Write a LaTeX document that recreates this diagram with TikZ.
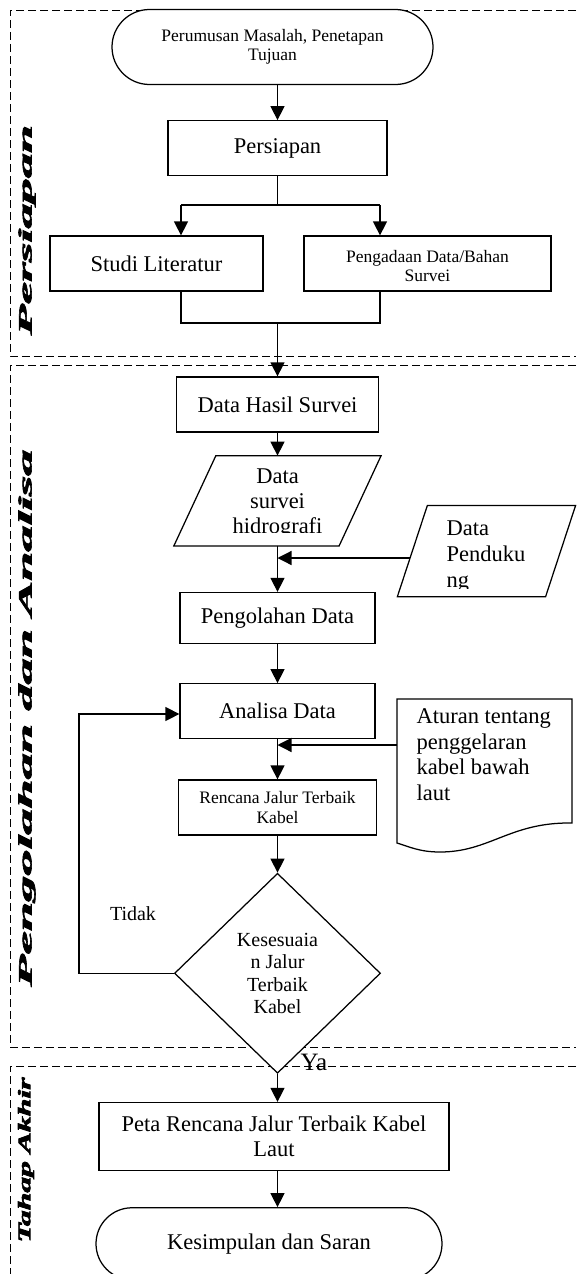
\documentclass[tikz,border=0pt]{standalone}
\usepackage{fontspec}
\setmainfont{Liberation Serif}
\newfontfamily\stagefont{Liberation Serif}[BoldItalicFeatures={FakeBold=3}]
\usepackage{graphicx}
\usetikzlibrary{positioning,arrows.meta,shapes.geometric,shapes.misc}

\begin{document}
\begin{tikzpicture}[x=1pt, y=-1pt, line width=1.25pt, node distance=35pt,
  every node/.style={font=\fontsize{22.5}{25}\selectfont},
  box/.style={draw, fill=white, inner sep=3pt, align=center},
  terminal/.style={draw, fill=white, rounded rectangle, inner sep=3pt, align=center},
  holder/.style={inner sep=0pt},
  slant/.style={draw, fill=white},
  smalltxt/.style={font=\fontsize{17.5}{19.5}\selectfont},
  lane/.style={dash pattern=on 8pt off 4pt, line width=0.9pt},
  stage/.style={rotate=90, inner sep=0pt, font=\stagefont\bfseries\itshape},
  arr/.style={-{Stealth[length=14pt, width=14pt, inset=0pt]}}]
  \useasboundingbox (0,0) rectangle (576,1274);
  % tahap
  \draw[lane] (576,10) -- (10,10) -- (10,356) -- (576,356);
  \draw[lane] (576,365) -- (10,365) -- (10,1047) -- (576,1047);
  \draw[lane] (576,1066) -- (10,1066) -- (10,1274);
  \node[stage] (persiapanlbl) at (27,230) {\resizebox*{210pt}{17pt}{Persiapan}};
  \node[stage] (olahlbl) at (27,718) {\resizebox*{537pt}{17pt}{Pengolahan dan Analisa}};
  \node[stage] (akhirlbl) at (26,1160) {\resizebox*{165pt}{16pt}{Tahap Akhir}};

  % persiapan
  \node[terminal, smalltxt, minimum width=327pt, minimum height=75pt] (start) at (272.5,47) {Perumusan Masalah, Penetapan\\Tujuan};
  \node[box, minimum width=219pt, minimum height=55pt, below=35pt of start, xshift=5pt] (persiapan) {Persiapan};
  \node[box, minimum width=213pt, minimum height=55pt] (studi) at (156.5,263.5) {Studi Literatur};
  \node[box, minimum width=247pt, minimum height=55pt] (adaan) at (427.5,263.5) {};
  \begin{scope}
    \clip (304,236) rectangle (551,281);
    \node[smalltxt, align=center, inner sep=0pt] (adaantxt) at (427.5,266) {Pengadaan Data/Bahan\\Survei};
  \end{scope}
  \coordinate (split) at (277.5,205);
  \coordinate (splitl) at (181,205);
  \coordinate (splitr) at (380,205);
  \coordinate (merge) at (277.5,323);

  % pengolahan dan analisa
  \node[box, minimum width=202pt, minimum height=55pt, below=200pt of persiapan] (hasil) {Data Hasil Survei};
  \node[holder, minimum width=164pt, minimum height=89pt, below=23pt of hasil] (survei) {};
  \draw[slant] ([xshift=21pt]survei.north west) -- ([xshift=21pt]survei.north east) -- ([xshift=-21pt]survei.south east) -- ([xshift=-21pt]survei.south west) -- cycle;
  \begin{scope}
    \clip (150,453) rectangle (400,532);
    \node[align=center, inner sep=0pt] (surveitxt) at (277.5,504) {Data\\survei\\hidrografi};
  \end{scope}
  \node[holder, minimum width=147pt, minimum height=90pt] (dukung) at (486.5,551) {};
  \draw[slant] ([xshift=15pt]dukung.north west) -- ([xshift=15pt]dukung.north east) -- ([xshift=-15pt]dukung.south east) -- ([xshift=-15pt]dukung.south west) -- cycle;
  \begin{scope}
    \clip (380,506) rectangle (576,588);
    \node[anchor=west, align=left, inner sep=0pt, font=\fontsize{22.5}{26}\selectfont] (dukungtxt) at (446,557) {Data\\Penduku\\ng};
  \end{scope}
  \coordinate (dukungin) at (410,558);
  \node[box, minimum width=195pt, minimum height=51pt, below=46pt of survei] (pengolahan) {Pengolahan Data};
  \node[box, minimum width=195pt, minimum height=55pt, below=39pt of pengolahan] (analisa) {Analisa Data};
  \draw[fill=white] (397,699) -- (572,699) -- (572,823) .. controls (510,822) and (490,852) .. (440,852) .. controls (420,852) and (410,847) .. (397,843) -- cycle;
  \node[anchor=north west, align=left, inner sep=0pt, font=\fontsize{22.5}{25.7}\selectfont] (aturan) at (416,708) {Aturan tentang\\penggelaran\\kabel bawah\\laut};
  \coordinate (aturanin) at (397,745);
  \node[box, smalltxt, minimum width=198pt, minimum height=55pt, below=40pt of analisa] (rencana) {Rencana Jalur Terbaik\\Kabel};
  \node[draw, fill=white, diamond, minimum width=206pt, minimum height=200pt, inner sep=0pt, align=center,
    font=\fontsize{20}{22.5}\selectfont, below=37pt of rencana] (sesuai) {Kesesuaia\\n Jalur\\Terbaik\\Kabel};
  \node[font=\fontsize{20}{22}\selectfont] (tidak) at (133,914) {Tidak};
  \coordinate (back) at (79,714);

  % tahap akhir
  \node[font=\fontsize{25}{27}\selectfont] (ya) at (314,1062) {Ya};
  \node[box, minimum width=350pt, minimum height=68pt, below=28pt of sesuai, xshift=-3.5pt] (peta) {Peta Rencana Jalur Terbaik Kabel\\Laut};
  \node[terminal, minimum width=352pt, minimum height=72pt, below=36pt of peta, xshift=-5pt] (kesimpulan) {Kesimpulan dan Saran};

  \draw[arr] (start.south -| persiapan) -- (persiapan);
  \draw (persiapan) -- (split);
  \draw (splitl) -- (splitr);
  \draw[arr] (splitl) -- (splitl |- studi.north);
  \draw[arr] (splitr) -- (splitr |- adaan.north);
  \draw (splitl |- studi.south) -- (splitl |- merge) -- (splitr |- merge) -- (splitr |- adaan.south);
  \draw[arr] (merge) -- (hasil);
  \draw[arr] (hasil) -- (survei);
  \draw[arr] (survei) -- (pengolahan);
  \draw[arr] (dukungin) -- (dukungin -| survei);
  \draw[arr] (pengolahan) -- (analisa);
  \draw[arr] (analisa) -- (rencana);
  \draw[arr] (aturanin) -- (aturanin -| analisa);
  \draw[arr] (rencana) -- (sesuai);
  \draw[arr] (sesuai.west) -- (sesuai.west -| back) -- (back) -- (back -| analisa.west);
  \draw[arr] (sesuai.south) -- (sesuai.south |- peta.north);
  \draw[arr] (peta.south -| sesuai) -- (sesuai |- kesimpulan.north);
\end{tikzpicture}
\end{document}
